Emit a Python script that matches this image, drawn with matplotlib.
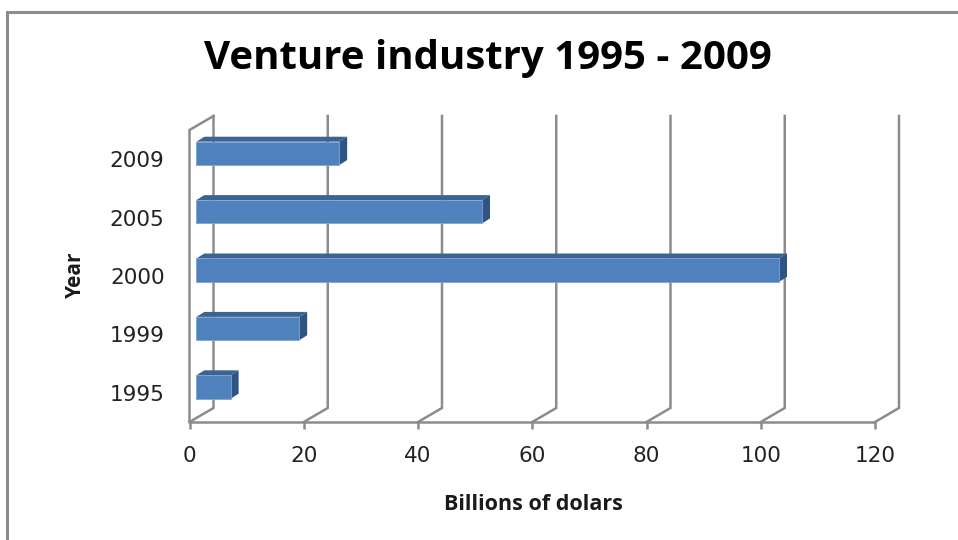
"""Venture industry bar chart with a pseudo-3D look."""

import matplotlib
matplotlib.use('Agg')
import matplotlib.pyplot as plt
from matplotlib.lines import Line2D

years = ['1995', '1999', '2000', '2005', '2009']
billions = [6, 18, 102, 50, 25]
x_ticks = [0, 20, 40, 60, 80, 100, 120]

GRID = '#8c8c8c'
FRONT = '#4f81bd'
TOP = '#3b6491'
SIDE = '#2f5484'

# depth of the back wall and of the bars, in data units
WALL_DX, WALL_DY = 4.2, 0.24
BAR_DX, BAR_DY = 1.4, 0.085
# the bars sit part way between the front plane and the back wall
SHIFT_X, SHIFT_Y = 1.2, 0.1
BAR_H = 0.4

fig = plt.figure(figsize=(9.58, 5.4), dpi=100)
ax = fig.add_axes([189.5 / 958, 118 / 540, 685.5 / 958, 292 / 540])
ax.set_xlim(0, 120)
ax.set_ylim(0, 5)

for name in ['top', 'right', 'left']:
    ax.spines[name].set_visible(False)
ax.spines['bottom'].set_color(GRID)
ax.spines['bottom'].set_linewidth(1.8)

# back wall lines and the floor diagonals
for x in x_ticks:
    ax.plot([x, x + WALL_DX, x + WALL_DX], [0, WALL_DY, 5 + WALL_DY],
            color=GRID, lw=1.8, clip_on=False, zorder=1,
            solid_joinstyle='miter')

# left side wall
ax.plot([0, 0, WALL_DX], [0, 5, 5 + WALL_DY], color=GRID, lw=1.8,
        clip_on=False, zorder=1, solid_joinstyle='miter')

ypos = list(range(len(years)))
for i, val in zip(ypos, billions):
    y0 = i + 0.5 + SHIFT_Y - BAR_H / 2
    y1 = y0 + BAR_H
    x0 = SHIFT_X
    x1 = SHIFT_X + val
    ax.fill([x0, x1, x1 + BAR_DX, x0 + BAR_DX],
            [y1, y1, y1 + BAR_DY, y1 + BAR_DY],
            color=TOP, lw=0, clip_on=False, zorder=3)
    ax.fill([x1, x1 + BAR_DX, x1 + BAR_DX, x1],
            [y0, y0 + BAR_DY, y1 + BAR_DY, y1],
            color=SIDE, lw=0, clip_on=False, zorder=3)
    ax.barh(i + 0.5 + SHIFT_Y, val, height=BAR_H, left=SHIFT_X,
            color=FRONT, edgecolor='#7fa3cf', linewidth=0.6, zorder=4)

ax.set_xticks(x_ticks)
ax.tick_params(axis='x', length=5, width=1.8, color=GRID, pad=12,
               labelsize=15.5, labelcolor='#222222')
ax.set_yticks([i + 0.5 for i in ypos])
ax.set_yticklabels(years)
ax.tick_params(axis='y', length=0, pad=18, labelsize=15.5, labelcolor='#222222')

fig.text(533 / 958, 1 - 504 / 540, 'Billions of dolars', ha='center',
         va='center', fontsize=15.5, fontweight='bold', family='Open Sans',
         color='#1a1a1a')
fig.text(75 / 958, 1 - 275 / 540, 'Year', ha='center', va='center',
         rotation=90, fontsize=15, fontweight='bold', family='Open Sans',
         color='#1a1a1a')
fig.text(488 / 958, 1 - 59 / 540, 'Venture industry 1995 - 2009', ha='center',
         va='center', fontsize=29, fontweight='bold', family='Open Sans',
         color='black')

# outer frame, open to the right and the bottom
fig.add_artist(Line2D([7 / 958, 7 / 958, 1], [0, 1 - 12 / 540, 1 - 12 / 540],
                      color=GRID, lw=2.2, solid_joinstyle='miter'))

fig.savefig('out.png', dpi=100)
plt.close()
